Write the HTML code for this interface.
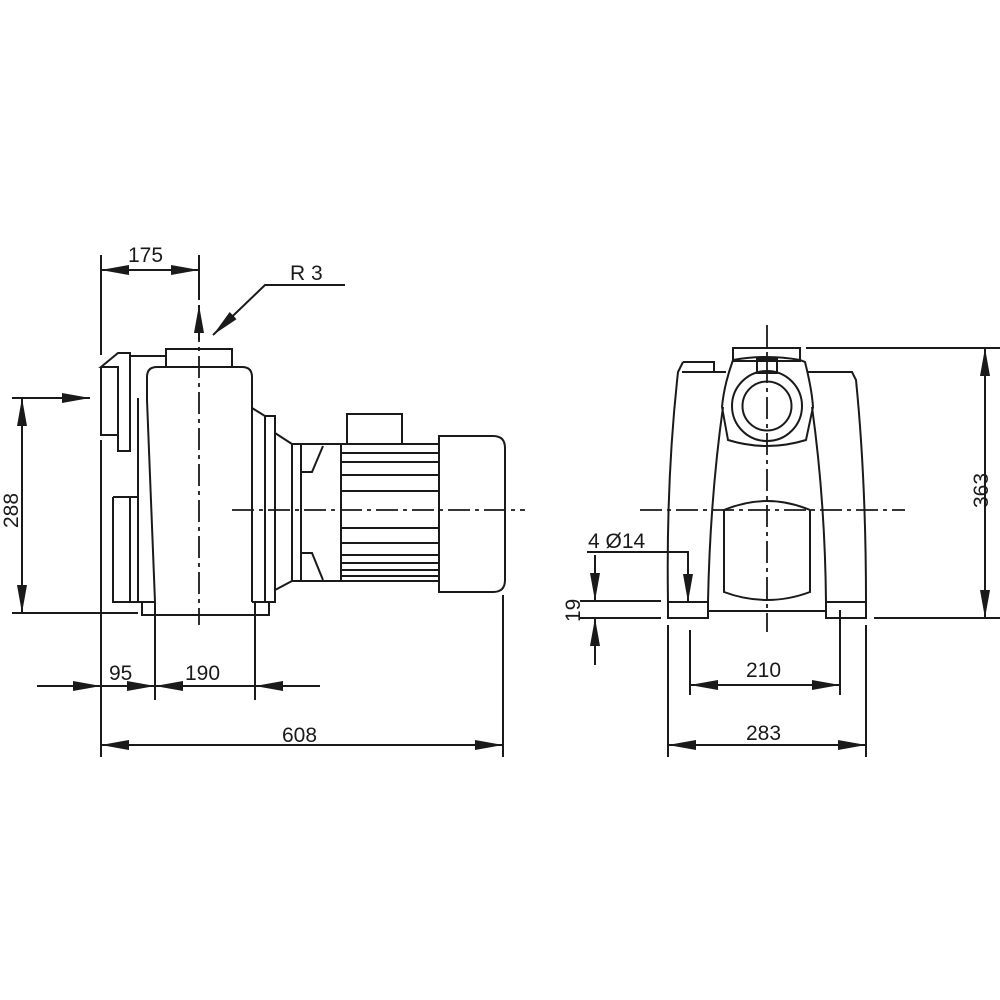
<!DOCTYPE html>
<html><head><style>body{margin:0;background:#fff}svg{display:block}</style></head><body>
<svg width="1000" height="1000" viewBox="0 0 1000 1000" xmlns="http://www.w3.org/2000/svg" font-family="Liberation Sans, sans-serif" font-size="21" fill="none" stroke="#1a1a1a" stroke-width="2">
<defs>
<marker id="a" viewBox="0 0 28 10" refX="28" refY="5" markerWidth="28" markerHeight="10" markerUnits="userSpaceOnUse" orient="auto"><path d="M0,0 L28,5 L0,10z" fill="#1a1a1a" stroke="none"/></marker>
</defs>
<!-- LEFT VIEW -->
<g>
<path d="M101,367 L118,353 L130,353 L130,451 L118,451 L118,367 Z M101,367 L101,435 L118,435"/>
<path d="M130,356 L165,356"/>
<path d="M138,398 L138,602"/>
<path d="M113,497 L138,497 M113,497 L113,602 L155,602 M130,497 L130,602"/>
<rect x="166" y="349" width="66" height="18"/>
<path d="M157,367 L242,367 Q252,367 252,377 L252,602 M157,367 Q147,367 147,377 L147,400 L155,602"/>
<path d="M142,602 L142,615 L269,615 L269,602 L252,602 M155,602 L155,630 M255,602 L255,630"/>
<path d="M252,408 L265,416 L265,602 M265,416 L275,416 L275,602 L265,602"/>
<path d="M275,433 L292,444 M275,590 L292,581 M275,602 L275,590"/>
<rect x="292" y="444" width="9" height="137"/>
<rect x="301" y="444" width="40" height="137"/>
<path d="M301,472 L312,472 L323,446 M301,553 L312,553 L323,580"/>
<rect x="341" y="444" width="98" height="137"/>
<path d="M341,453H439M341,462H439M341,475H439M341,491H439M341,528H439M341,543H439M341,555H439M341,563H439M341,570H439M341,576H439"/>
<rect x="347" y="414" width="55" height="30"/>
<path d="M439,436 L493,436 Q505,436 505,448 L505,580 Q505,592 493,592 L439,592 Z"/>
<path d="M232,510 L525,510" stroke-dasharray="22,5,4,5" stroke-width="1.8"/>
<path d="M199,320 L199,625" stroke-dasharray="22,5,4,5" stroke-width="1.8"/>
<path d="M503,595 L503,757"/>
</g>
<!-- left dims -->
<path d="M101,255 L101,355 M101,440 L101,757 M199,255 L199,300"/>
<path d="M150,270 L101,270" marker-end="url(#a)"/><path d="M150,270 L199,270" marker-end="url(#a)"/>
<text x="128" y="262" fill="#1a1a1a" stroke="none">175</text>
<path d="M199,340 L199,305" marker-end="url(#a)"/>
<path d="M345,285 L265,285 L213,335" marker-end="url(#a)"/>
<text x="290" y="280" fill="#1a1a1a" stroke="none">R 3</text>
<path d="M12,398 L90,398" marker-end="url(#a)"/>
<path d="M12,613 L138,613"/>
<path d="M22,505 L22,398" marker-end="url(#a)"/><path d="M22,505 L22,613" marker-end="url(#a)"/>
<text transform="translate(18,528) rotate(-90)" fill="#1a1a1a" stroke="none">288</text>
<path d="M37,686 L101,686" marker-end="url(#a)"/>
<path d="M101,686 L155,686" marker-end="url(#a)"/>
<path d="M155,686 L255,686 M320,686 L255,686" marker-end="url(#a)"/>
<path d="M155,686 L183,686" /><path d="M200,686 L155,686" marker-end="url(#a)"/>
<path d="M155,630 L155,700 M255,630 L255,700"/>
<text x="109" y="680" fill="#1a1a1a" stroke="none">95</text>
<text x="185" y="680" fill="#1a1a1a" stroke="none">190</text>
<path d="M300,745 L101,745" marker-end="url(#a)"/><path d="M300,745 L503,745" marker-end="url(#a)"/>
<text x="282" y="742" fill="#1a1a1a" stroke="none">608</text>
<!-- RIGHT VIEW -->
<rect x="733" y="348" width="67" height="13"/>
<path d="M806,348 L1000,348 M874,618 L1000,618"/>
<path d="M683,362 L714,362 L714,372 M683,362 L678,372 Q666,480 668,602 M682,372 L726,372"/>
<path d="M808,372 L852,372 L856,380 Q866,480 866,602"/>
<path d="M733,360 Q767,354 800,360 L805,362 Q812,390 813,407 L806,440 Q767,452 728,440 L722,407 Q724,385 733,360"/>
<rect x="757" y="359" width="20" height="14"/>
<circle cx="767" cy="406" r="35"/><circle cx="767" cy="406" r="24.5"/>
<path d="M723,407 Q710,500 708,602 M812,407 Q825,500 826,602"/>
<path d="M724,510 Q767,492 810,510 L810,592 Q767,608 724,592 Z"/>
<rect x="668" y="602" width="40" height="16"/>
<rect x="826" y="602" width="40" height="16"/>
<path d="M708,611 L826,611"/>
<path d="M767,325 L767,632" stroke-dasharray="22,5,4,5" stroke-width="1.8"/>
<path d="M640,510 L905,510" stroke-dasharray="22,5,4,5" stroke-width="1.8"/>
<!-- right dims -->
<path d="M985,480 L985,348" marker-end="url(#a)"/><path d="M985,480 L985,618" marker-end="url(#a)"/>
<text transform="translate(988,508) rotate(-90)" fill="#1a1a1a" stroke="none">363</text>
<text x="588" y="548" fill="#1a1a1a" stroke="none">4 Ø14</text>
<path d="M587,552 L688,552 L688,602" marker-end="url(#a)"/>
<path d="M580,601 L661,601 M580,618 L661,618"/>
<path d="M595,555 L595,601" marker-end="url(#a)"/><path d="M595,665 L595,618" marker-end="url(#a)"/>
<text transform="translate(580,622) rotate(-90)" fill="#1a1a1a" stroke="none">19</text>
<path d="M668,625 L668,757 M866,625 L866,757 M690,630 L690,695 M840,610 L840,695"/>
<path d="M765,685 L690,685" marker-end="url(#a)"/><path d="M765,685 L840,685" marker-end="url(#a)"/>
<text x="746" y="677" fill="#1a1a1a" stroke="none">210</text>
<path d="M767,745 L668,745" marker-end="url(#a)"/><path d="M767,745 L866,745" marker-end="url(#a)"/>
<text x="746" y="740" fill="#1a1a1a" stroke="none">283</text>
</svg>
</body></html>
